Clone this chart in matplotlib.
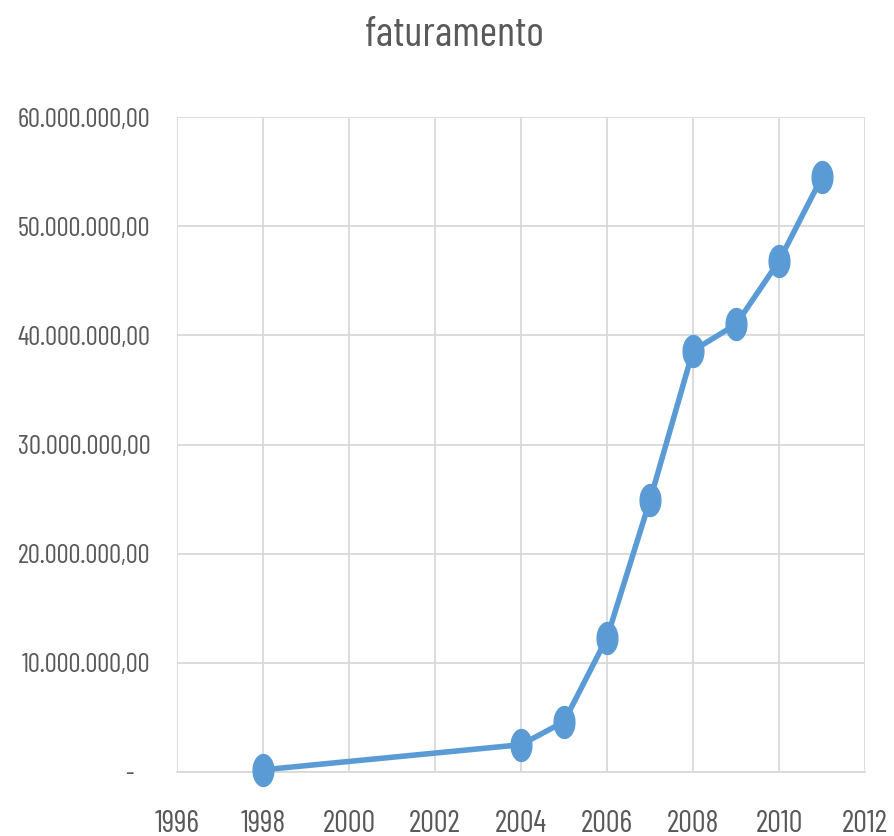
import matplotlib
matplotlib.use("Agg")
import matplotlib.pyplot as plt
import numpy as np
from matplotlib.path import Path
from matplotlib import font_manager as fm

years = [1998, 2004, 2005, 2006, 2007, 2008, 2009, 2010, 2011]
faturamento = [200000, 2500000, 4600000, 12300000, 24900000, 38600000, 41000000, 46800000, 54500000]
y_ticks = [0, 10000000, 20000000, 30000000, 40000000, 50000000, 60000000]
y_labels = ["-   ", "10.000.000,00", "20.000.000,00", "30.000.000,00", "40.000.000,00", "50.000.000,00", "60.000.000,00"]
x_ticks = [1996, 1998, 2000, 2002, 2004, 2006, 2008, 2010, 2012]
title = "faturamento"

names = {f.name for f in fm.fontManager.ttflist}
fam = "Barlow Condensed" if "Barlow Condensed" in names else "DejaVu Sans"
plt.rcParams["font.family"] = [fam, "DejaVu Sans"]

gray = "#595959"
blue = "#5B9BD5"
grid = "#D9D9D9"

fig = plt.figure(figsize=(8.94, 8.36), dpi=100)
renderer = fig.canvas.get_renderer()


def fit_size(s, target_px):
    t = fig.text(0, 0, s, fontsize=20)
    w = t.get_window_extent(renderer).width
    t.remove()
    return 20 * target_px / w


ysize = fit_size("60.000.000,00", 134)
xsize = fit_size("1996", 45)
tsize = fit_size(title, 180)

ax = fig.add_axes([177/894, 1-772/836, (865-177)/894, (772-117)/836])

t = np.linspace(0, 2*np.pi, 60)
ell = Path(np.column_stack([0.65*np.cos(t), np.sin(t)]), closed=True)

ax.plot(years, faturamento, color=blue, lw=4, marker=ell, ms=23, mfc=blue, mec=blue,
        zorder=3, clip_on=False, solid_capstyle="round", solid_joinstyle="round")

ax.set_xlim(1996, 2012)
ax.set_ylim(0, 60000000)
ax.set_xticks(x_ticks)
ax.set_xticklabels([str(x) for x in x_ticks])
ax.set_yticks(y_ticks)
ax.set_yticklabels(y_labels)
ax.tick_params(length=0, colors=gray)
ax.tick_params(axis="y", labelsize=ysize, pad=19)
ax.tick_params(axis="x", labelsize=xsize, pad=27)
ax.grid(True, color=grid, lw=1.3)
ax.set_axisbelow(True)
for s in ["top", "right", "left"]:
    ax.spines[s].set_visible(False)
ax.spines["bottom"].set_color(grid)
ax.spines["bottom"].set_linewidth(1.3)

fig.text(455/894, 1-35/836, title, ha="center", va="center", fontsize=tsize, color=gray)

fig.savefig("out.png", dpi=100)
